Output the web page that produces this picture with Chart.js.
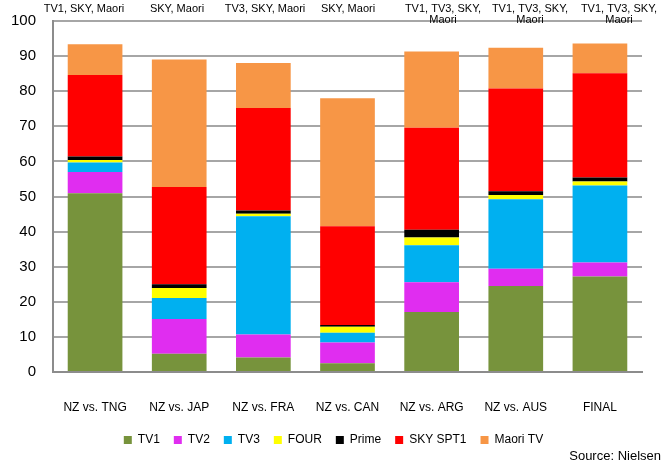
<!DOCTYPE html>
<html>
<head>
<meta charset="utf-8">
<script src="https://cdn.jsdelivr.net/npm/chart.js@4/dist/chart.umd.min.js"></script>
<style>
  html, body { margin:0; padding:0; background:#fff; }
  #wrap { width:667px; height:466px; position:relative; }
</style>
</head>
<body>
<div id="wrap"><canvas id="c" width="667" height="466"></canvas></div>
<script>
/* ---- data ---- */
const matches = ['NZ vs. TNG','NZ vs. JAP','NZ vs. FRA','NZ vs. CAN','NZ vs. ARG','NZ vs. AUS','FINAL'];
const tv1     = [50.9,  5.2,  4.1,  2.5, 17.1, 24.5, 27.2];
const tv2     = [ 6.1,  9.9,  6.6,  5.9,  8.5,  4.9,  4.0];
const tv3     = [ 2.7,  6.0, 33.7,  2.8, 10.5, 19.8, 21.9];
const four    = [ 0.7,  2.8,  0.7,  1.7,  2.2,  1.2,  1.2];
const prime   = [ 1.0,  1.1,  0.9,  0.5,  2.2,  1.1,  1.1];
const skySpt1 = [23.2, 27.7, 29.2, 28.1, 29.1, 29.3, 29.7];
const maoriTv = [ 8.8, 36.3, 12.8, 36.5, 21.7, 11.6,  8.5];
const yTicks  = [0,10,20,30,40,50,60,70,80,90,100];
const broadcasters = [
  ['TV1, SKY, Maori'], ['SKY, Maori'], ['TV3, SKY, Maori'], ['SKY, Maori'],
  ['TV1, TV3, SKY,','Maori'], ['TV1, TV3, SKY,','Maori'], ['TV1, TV3, SKY,','Maori'],
];
const sourceNote = 'Source: Nielsen';

const COLORS = {
  tv1:'#77933C', tv2:'#E02DF0', tv3:'#00B0F0', four:'#FFFF00',
  prime:'#000000', sky:'#FF0000', maori:'#F79646',
};

/* ---- broadcaster captions above plot + source line ---- */
const captionPlugin = {
  id:'captions',
  afterDraw(chart) {
    const ctx = chart.ctx;
    const xs = [84, 177, 265, 348, 443, 530, 619];
    ctx.save();
    ctx.fillStyle = '#000';
    ctx.textAlign = 'center';
    ctx.textBaseline = 'middle';
    ctx.font = '11px "Liberation Sans Narrow", "Liberation Sans", Arial, sans-serif';
    broadcasters.forEach((lines, i) => {
      lines.forEach((t, j) => ctx.fillText(t, xs[i], 9 + j * 11));
    });
    ctx.textAlign = 'right';
    ctx.font = '13px "Liberation Sans", Arial, sans-serif';
    ctx.fillText(sourceNote, 661, 456);
    ctx.restore();
  },
};

const ds = (label, data, color) => ({
  label, data, backgroundColor: color, borderWidth: 0,
  barPercentage: 0.65, categoryPercentage: 1.0,
});

new Chart(document.getElementById('c'), {
  type:'bar',
  data:{
    labels: matches,
    datasets:[
      ds('TV1', tv1, COLORS.tv1),
      ds('TV2', tv2, COLORS.tv2),
      ds('TV3', tv3, COLORS.tv3),
      ds('FOUR', four, COLORS.four),
      ds('Prime', prime, COLORS.prime),
      ds('SKY SPT1', skySpt1, COLORS.sky),
      ds('Maori TV', maoriTv, COLORS.maori),
    ],
  },
  options:{
    responsive:false, animation:false,
    layout:{ padding:{ top:21, left:0, right:0, bottom:10 } },
    plugins:{
      legend:{
        display:true, position:'bottom',
        labels:{
          boxWidth:8, boxHeight:8, padding:14, color:'#000',
          font:{ size:12, family:'"Liberation Sans", Arial, sans-serif' },
        },
      },
      tooltip:{ enabled:false },
    },
    scales:{
      x:{
        stacked:true,
        grid:{ display:false, drawTicks:false },
        border:{ color:'#8c8c8c', width:2 },
        ticks:{ color:'#000', padding:28, font:{ size:12, family:'"Liberation Sans", Arial, sans-serif' } },
        afterFit(scale) { scale.height = 48; scale.paddingLeft = 0; scale.paddingRight = 0; },
      },
      y:{
        stacked:true, min:0, max:100,
        afterBuildTicks(scale) { scale.ticks = yTicks.map(v => ({ value:v })); },
        grid:{ color:'#a6a6a6', lineWidth:2, drawTicks:false },
        border:{ color:'#8c8c8c', width:2 },
        ticks:{ color:'#000', padding:17, font:{ size:15, family:'"Liberation Sans", Arial, sans-serif' } },
        afterFit(scale) { scale.width = 53; scale.paddingTop = 0; scale.paddingBottom = 0; },
      },
      // empty right-hand gutter so the legend stays centred on the page
      gutter:{
        position:'right', min:0, max:1,
        grid:{ display:false, drawTicks:false },
        border:{ display:false },
        ticks:{ display:false },
        afterFit(scale) { scale.width = 25; scale.paddingTop = 0; scale.paddingBottom = 0; },
      },
    },
  },
  plugins:[captionPlugin],
});
</script>
</body>
</html>
